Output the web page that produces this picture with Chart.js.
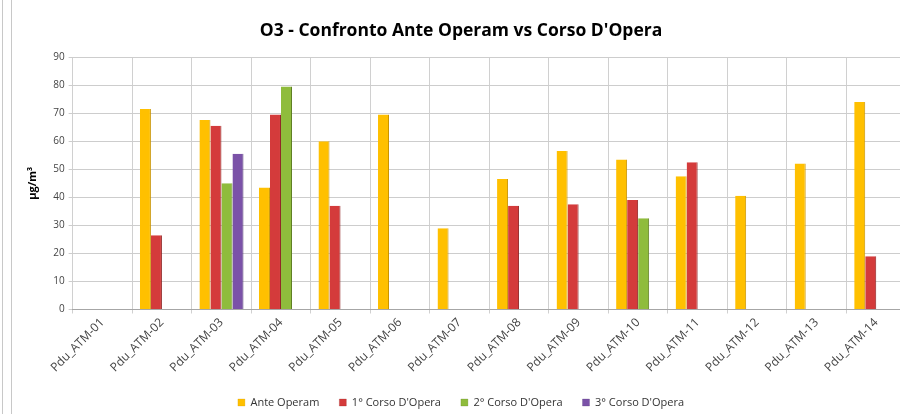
<!DOCTYPE html>
<html lang="it">
<head>
<meta charset="UTF-8">
<title>O3 - Confronto Ante Operam vs Corso D'Opera</title>
<script src="https://cdn.jsdelivr.net/npm/chart.js@4"></script>
<style>
  html, body { margin: 0; padding: 0; background: #fff; overflow: hidden; }
  .frame { position: absolute; left: 2px; top: 0; width: 8px; height: 414px;
           border-left: 1px solid #c8c8c8; border-right: 1px solid #c8c8c8; }
  .chart { position: absolute; left: 0; top: 0; width: 912px; height: 422px; }
</style>
</head>
<body>
<div class="frame"></div>
<div class="chart"><canvas id="myChart"></canvas></div>
<script>
const categories = ['Pdu_ATM-01', 'Pdu_ATM-02', 'Pdu_ATM-03', 'Pdu_ATM-04', 'Pdu_ATM-05', 'Pdu_ATM-06', 'Pdu_ATM-07',
                    'Pdu_ATM-08', 'Pdu_ATM-09', 'Pdu_ATM-10', 'Pdu_ATM-11', 'Pdu_ATM-12', 'Pdu_ATM-13', 'Pdu_ATM-14'];
const anteOperam = [null, 71.5, 67.5, 43.5, 60, 69.5, 29, 46.5, 56.5, 53.5, 47.5, 40.5, 52, 74];
const corso1 = [null, 26.5, 65.5, 69.5, 37, null, null, 37, 37.5, 39, 52.5, null, null, 19];
const corso2 = [null, null, 45, 79.5, null, null, null, null, null, 32.5, null, null, null, null];
const corso3 = [null, null, 55.5, null, null, null, null, null, null, null, null, null, null, null];
const yTicks = [0, 10, 20, 30, 40, 50, 60, 70, 80, 90];

const font = "'Open Sans', 'Liberation Sans', sans-serif";

var ctx = document.getElementById('myChart').getContext('2d');
var chart = new Chart(ctx, {
    type: 'bar',
    data: {
        labels: categories,
        datasets: [
            { label: 'Ante Operam', data: anteOperam, backgroundColor: '#ffc000', borderColor: '#c99400' },
            { label: "1° Corso D'Opera", data: corso1, backgroundColor: '#d43b3b', borderColor: '#8f2222' },
            { label: "2° Corso D'Opera", data: corso2, backgroundColor: '#8fbc3c', borderColor: '#5e7f22' },
            { label: "3° Corso D'Opera", data: corso3, backgroundColor: '#7b52a8', borderColor: '#4e3170' }
        ]
    },
    options: {
        responsive: true,
        maintainAspectRatio: false,
        animation: false,
        datasets: {
            bar: { categoryPercentage: 0.74, barPercentage: 1.0, borderWidth: { right: 1, left: 0, top: 0, bottom: 0 } }
        },
        layout: { padding: { left: 16, right: 6, top: 0, bottom: 4 } },
        plugins: {
            title: {
                display: true,
                text: "O3 - Confronto Ante Operam vs Corso D'Opera",
                color: '#000',
                font: { family: font, size: 17.5, weight: 'bold' },
                padding: { top: 21, bottom: 15 }
            },
            legend: {
                position: 'bottom',
                labels: {
                    boxWidth: 7, boxHeight: 7, padding: 20, color: '#333',
                    font: { family: font, size: 11 }
                }
            },
            tooltip: { enabled: false }
        },
        scales: {
            x: {
                grid: { offset: true, color: '#d0d0d0', tickLength: 4, drawTicks: true },
                border: { color: '#a6a6a6' },
                ticks: { minRotation: 45, maxRotation: 45, color: '#444', font: { family: font, size: 12 }, padding: 2 }
            },
            y: {
                min: 0, max: 90,
                afterBuildTicks: function (axis) { axis.ticks = yTicks.map(v => ({ value: v })); },
                grid: { color: '#cdcdcd', tickLength: 4 },
                border: { display: false },
                ticks: { color: '#444', font: { family: font, size: 10 }, padding: 4 },
                title: { display: true, text: 'μg/m³', color: '#000', font: { family: font, size: 11, weight: 'bold' }, padding: 10 }
            }
        }
    }
});
</script>
</body>
</html>
